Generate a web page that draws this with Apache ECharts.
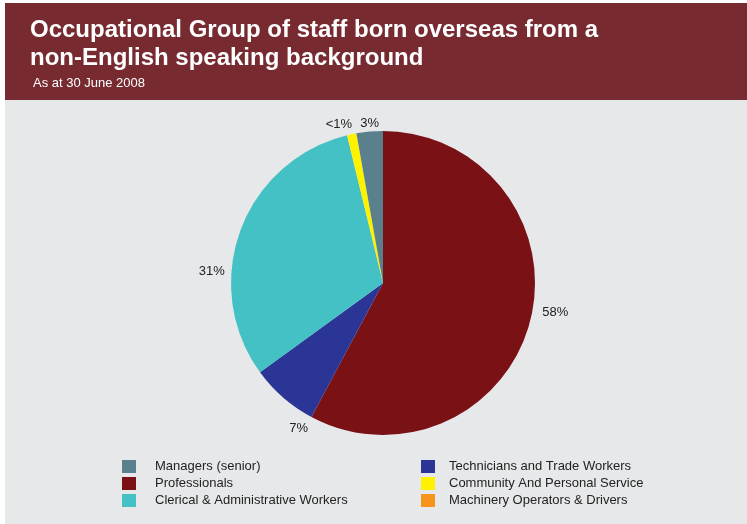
<!DOCTYPE html>
<html>
<head>
<meta charset="utf-8">
<script src="https://cdn.jsdelivr.net/npm/echarts@6/dist/echarts.min.js"></script>
<style>
html,body{margin:0;padding:0;background:#fff;}
#chart{width:747px;height:524px;}
</style>
</head>
<body>
<div id="chart"></div>
<script>
// Data (clockwise from 12 o'clock)
var categories = ['Professionals', 'Technicians and Trade Workers', 'Clerical & Administrative Workers', 'Community And Personal Service', 'Machinery Operators & Drivers', 'Managers (senior)'];
var values = [57.8, 7.2, 31.2, 1.0, 0, 2.8];
var pctLabels = ['58%', '7%', '31%', '<1%', '', '3%'];
var legendCol1 = ['Managers (senior)', 'Professionals', 'Clerical & Administrative Workers'];
var legendCol2 = ['Technicians and Trade Workers', 'Community And Personal Service', 'Machinery Operators & Drivers'];

// styling
var colors = ['#7a1115', '#2b3596', '#43c1c5', '#fff200', '#f7941d', '#5a808e'];
var labelNudge = [[-1, -9], [35, 25], [-3, 44], [7, -2], [0, 0], [15, 0]];

var chart = echarts.init(document.getElementById('chart'), null, {renderer: 'canvas'});
var font = 'Liberation Sans, Arial, sans-serif';
var data = categories.map(function (c, i) {
  return {name: c, value: values[i], itemStyle: {color: colors[i]}};
});
chart.setOption({
  animation: false,
  graphic: [
    {type: 'rect', z: -10, shape: {x: 5, y: 3, width: 742, height: 97}, style: {fill: '#772b31'}},
    {type: 'rect', z: -10, shape: {x: 5, y: 100, width: 742, height: 424}, style: {fill: '#e7e8ea'}}
  ],
  title: [
    {text: 'Occupational Group of staff born overseas from a\nnon-English speaking background', left: 25, top: 11,
     textStyle: {color: '#fff', fontFamily: font, fontSize: 24, fontWeight: 'bold', lineHeight: 28}},
    {text: 'As at 30 June 2008', left: 28, top: 72,
     textStyle: {color: '#fff', fontFamily: font, fontSize: 13, fontWeight: 'normal'}}
  ],
  legend: [
    {data: legendCol1, orient: 'vertical', left: 117, top: 455, icon: 'rect', itemWidth: 14, itemHeight: 13, itemGap: 4,
     textStyle: {fontFamily: font, fontSize: 13, color: '#222', lineHeight: 13, padding: [0, 0, 0, 14]}, selectedMode: false},
    {data: legendCol2, orient: 'vertical', left: 416, top: 455, icon: 'rect', itemWidth: 14, itemHeight: 13, itemGap: 4,
     textStyle: {fontFamily: font, fontSize: 13, color: '#222', lineHeight: 13, padding: [0, 0, 0, 9]}, selectedMode: false}
  ],
  series: [{
    type: 'pie',
    center: [383, 283],
    radius: 152,
    startAngle: 90,
    clockwise: true,
    avoidLabelOverlap: false,
    data: data,
    itemStyle: {borderWidth: 0},
    label: {
      show: true, position: 'outside', color: '#222', fontFamily: font, fontSize: 13,
      formatter: function (p) { return pctLabels[p.dataIndex]; }
    },
    labelLine: {show: false, length: 8, length2: 0},
    labelLayout: function (p) {
      var n = labelNudge[p.dataIndex] || [0, 0];
      return {dx: n[0], dy: n[1]};
    },
    emphasis: {disabled: true}
  }]
});
</script>
</body>
</html>
